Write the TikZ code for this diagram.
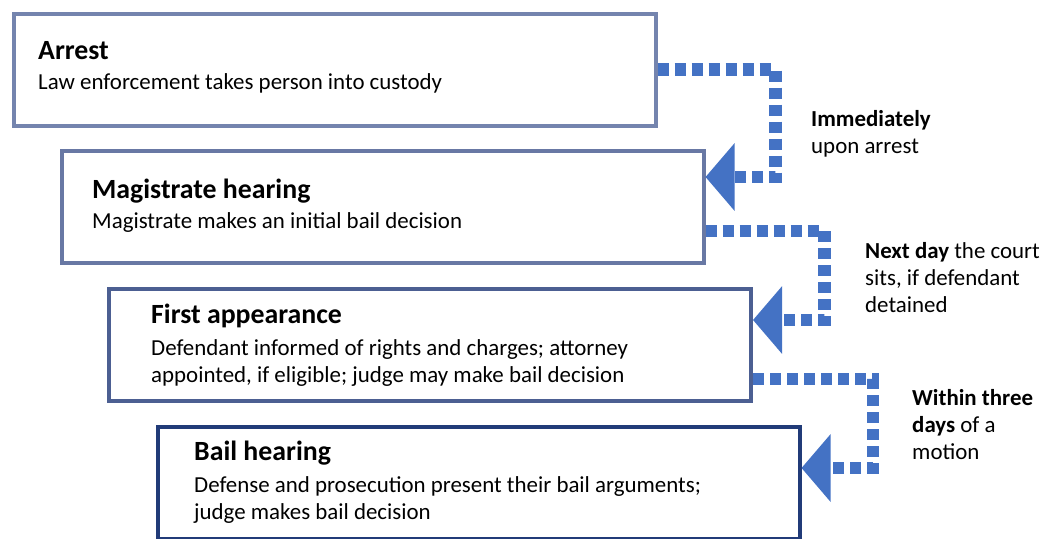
\documentclass[tikz,border=0pt]{standalone}
\usepackage{fontspec}
\setmainfont{Carlito}
\usetikzlibrary{arrows.meta}

\definecolor{boxA}{HTML}{7484AE}
\definecolor{boxB}{HTML}{6878A4}
\definecolor{boxC}{HTML}{4C5F92}
\definecolor{boxD}{HTML}{213B78}
\definecolor{flow}{HTML}{4472C4}

\begin{document}
\begin{tikzpicture}[x=1pt, y=-1pt,
    stagebox/.style={draw, line width=4pt, minimum width=642pt, minimum height=112pt, inner sep=0pt},
    stagetitle/.style={anchor=base west, inner sep=0pt, font=\fontsize{27.8}{33}\selectfont\bfseries},
    stagetext/.style={anchor=base west, inner sep=0pt, align=left, font=\fontsize{22.9}{27}\selectfont},
    waitnote/.style={anchor=base west, inner sep=0pt, align=left, font=\fontsize{22.9}{27}\selectfont},
    flowarr/.style={draw=flow, line width=12.5pt, dash pattern=on 11pt off 6pt, line join=miter,
        -{Triangle[length=29pt, width=66pt]}}
]
\useasboundingbox (0,0) rectangle (1043,538);

% ---- Stage boxes ----
\node[stagebox, draw=boxA] (b1) at (334.5, 69.5) {};
\node[stagebox, draw=boxB] (b2) at (382.5, 207) {};
\node[stagebox, draw=boxC] (b3) at (430, 345) {};
\node[stagebox, draw=boxD] (b4) at (478.5, 483) {};

% ---- Stage texts (base = last line) ----
\node[stagetitle] (t1) at (38, 59)  {Arrest};
\node[stagetext]  (d1) at (38, 89)  {Law enforcement takes person into custody};
\node[stagetitle] (t2) at (92, 198) {Magistrate hearing};
\node[stagetext]  (d2) at (92, 228) {Magistrate makes an initial bail decision};
\node[stagetitle] (t3) at (151, 323) {First appearance};
\node[stagetext]  (d3) at (151, 382) {Defendant informed of rights and charges; attorney\\appointed, if eligible; judge may make bail decision};
\node[stagetitle] (t4) at (194, 460) {Bail hearing};
\node[stagetext]  (d4) at (194, 519) {Defense and prosecution present their bail arguments;\\judge makes bail decision};

% ---- Timing arrows ----
\draw[flowarr] (b1.east) -- ++(118,0) |- ([yshift=30pt]b2.east);
\draw[flowarr] ([yshift=-24pt]b2.east) -- ++(119,0) |- ([yshift=25pt]b3.east);
\draw[flowarr] ([yshift=-34pt]b3.east) -- ++(120,0) |- ([yshift=15pt]b4.east);

% ---- Timing notes ----
\node[waitnote] (w1) at (811, 153) {\textbf{Immediately}\\upon arrest};
\node[waitnote] (w2) at (865, 312) {\textbf{Next day} the court\\sits, if defendant\\detained};
\node[waitnote] (w3) at (912, 459) {\textbf{Within three}\\\textbf{days} of a\\motion};

\end{tikzpicture}
\end{document}
